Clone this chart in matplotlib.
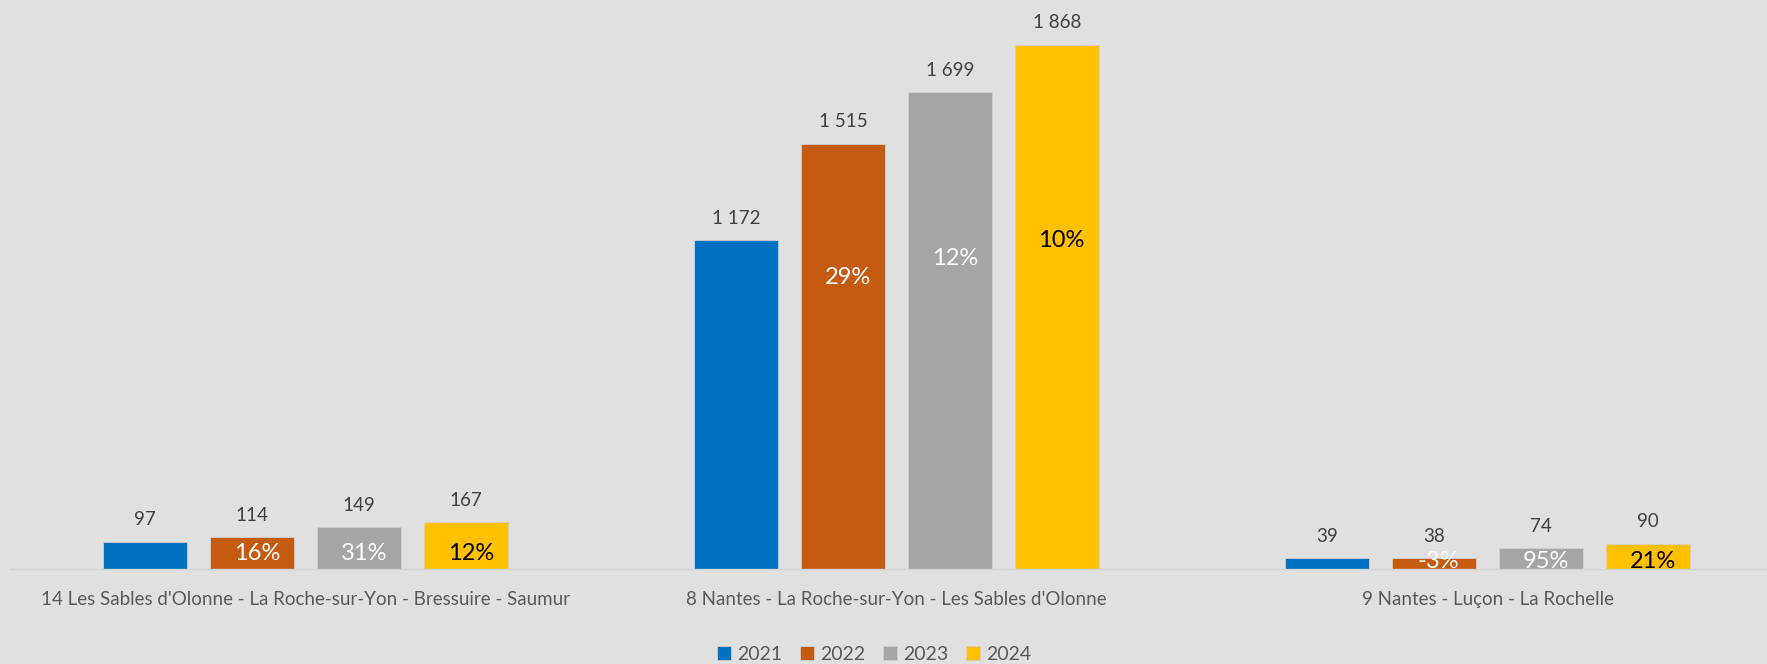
import matplotlib
matplotlib.use("Agg")
import matplotlib.pyplot as plt
import numpy as np

plt.rcParams['font.family'] = ['Lato', 'DejaVu Sans']

# data
categories = ["14 Les Sables d'Olonne - La Roche-sur-Yon - Bressuire - Saumur",
              "8 Nantes - La Roche-sur-Yon - Les Sables d'Olonne",
              "9 Nantes - Luçon - La Rochelle"]
years = ["2021", "2022", "2023", "2024"]
v2021 = [97, 1172, 39]
v2022 = [114, 1515, 38]
v2023 = [149, 1699, 74]
v2024 = [167, 1868, 90]
pct2022 = [16, 29, -3]
pct2023 = [31, 12, 95]
pct2024 = [12, 10, 21]

series = [v2021, v2022, v2023, v2024]
pcts = [None, pct2022, pct2023, pct2024]
colors = ['#0070C0', '#C55A11', '#A5A5A5', '#FFC000']
pct_colors = [None, 'white', 'white', 'black']
# height (data units) where the growth labels sit, per group
pct_y = [[57, 57, 57], [1040, 1105, 1172], [25, 25, 25]]
pct_y = [[pct_y[g][k] for g in range(3)] for k in range(3)]

bg = '#E0E0E0'
fig = plt.figure(figsize=(17.67, 6.64), dpi=100, facecolor=bg)
W, H = 1767, 664
ax = fig.add_axes([10 / W, (H - 569) / H, 1773 / W, 569 / H])
ax.set_facecolor(bg)

x = np.arange(len(categories))
width = 0.142
step = 0.181
for i, vals in enumerate(series):
    pos = x + (i - 1.5) * step
    ax.bar(pos, vals, width=width, color=colors[i], label=years[i],
           edgecolor='#D0D0D0', linewidth=0.6, zorder=2)
    for j, v in enumerate(vals):
        txt = f"{v:,}".replace(",", " ")
        ax.annotate(txt, (pos[j], v), xytext=(0, 22), textcoords='offset pixels',
                    ha='center', va='center', fontsize=13.5, color='#404040')
    if pcts[i] is not None:
        for j, p in enumerate(pcts[i]):
            ax.text(pos[j] + 0.008, pct_y[i - 1][j], f"{p}%", ha='center', va='center',
                    fontsize=17, color=pct_colors[i], zorder=3)

ax.set_xlim(-0.5, 2.5)
ax.set_ylim(0, 2028)
ax.set_yticks([])
ax.set_xticks(x)
ax.set_xticklabels(categories, fontsize=13.5, color='#595959')
ax.tick_params(axis='x', length=0, pad=16)
for s in ['top', 'right', 'left']:
    ax.spines[s].set_visible(False)
ax.spines['bottom'].set_color('#D2D2D2')
ax.spines['bottom'].set_linewidth(1)

fig.legend(loc='center', bbox_to_anchor=(874 / W, 10 / H), ncol=4, frameon=False,
           fontsize=14, labelcolor='#595959', handlelength=0.75, handleheight=0.75,
           handletextpad=0.3, columnspacing=0.9, borderaxespad=0)

fig.savefig('out.png', dpi=100, facecolor=bg)
